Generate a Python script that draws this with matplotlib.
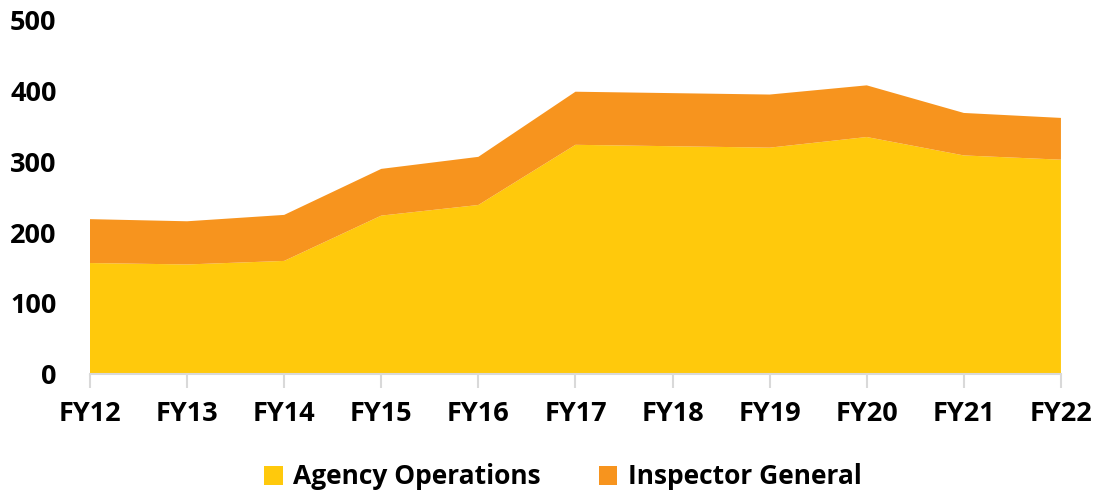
import numpy as np
import matplotlib.pyplot as plt

years = ['FY12', 'FY13', 'FY14', 'FY15', 'FY16', 'FY17', 'FY18', 'FY19', 'FY20', 'FY21', 'FY22']
agency_ops = [157, 155, 160, 224, 239, 324, 322, 320, 335, 309, 303]
inspector_gen = [62, 61, 65, 66, 68, 75, 75, 75, 73, 60, 59]

plt.rcParams['font.family'] = ['Open Sans', 'DejaVu Sans']
plt.rcParams['font.weight'] = 'bold'

fig = plt.figure(figsize=(11.04, 4.93), dpi=100)
ax = fig.add_axes([0.0815, 0.241, 0.8795, 0.718])

x = np.arange(len(years))
ax.stackplot(x, agency_ops, inspector_gen,
             colors=['#FFC90C', '#F7941E'],
             labels=['Agency Operations', 'Inspector General'])

ax.set_xlim(0, len(years) - 1)
ax.set_ylim(0, 500)
ax.set_yticks([0, 100, 200, 300, 400, 500])
ax.set_xticks(x)
ax.set_xticklabels(years)

for side in ['top', 'right', 'left']:
    ax.spines[side].set_visible(False)
ax.spines['bottom'].set_color('#D9D9D9')
ax.spines['bottom'].set_linewidth(1.5)
ax.tick_params(axis='x', colors='#D9D9D9', length=10, width=1.5, pad=9)
ax.tick_params(axis='y', length=0, pad=24)
for lab in ax.get_xticklabels() + ax.get_yticklabels():
    lab.set_color('black')
    lab.set_fontsize(19.5)
    lab.set_fontweight('bold')

fig.legend(*ax.get_legend_handles_labels(), loc='center',
           bbox_to_anchor=(563 / 1104, 16 / 493), ncol=2, frameon=False,
           prop={'size': 19, 'weight': 'bold'}, handlelength=0.7,
           handleheight=0.7, columnspacing=2.2, handletextpad=0.4)

fig.savefig('out.png', dpi=100)
